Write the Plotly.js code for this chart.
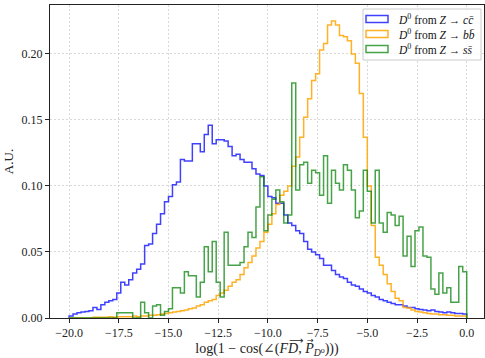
<!DOCTYPE html>
<html><head><meta charset="utf-8">
<script src="https://cdn.plot.ly/plotly-3.0.1.min.js"></script>
<style>html,body{margin:0;padding:0;background:#fff;overflow:hidden}</style>
</head><body><div id="chart" style="width:485px;height:358px"></div>
<script>
const binStart = -20;
const binWidth = 0.2;
const ccValues = [
 0.0015,0.003,0.004,0.0045,0.005,0.0055,0.008,0.0065,0.010,0.012,
 0.013,0.014,0.019,0.027,0.025,0.029,0.034,0.037,0.041,0.055,
 0.056,0.064,0.071,0.079,0.088,0.092,0.101,0.103,0.120,0.119,
 0.119,0.132,0.132,0.126,0.139,0.146,0.132,0.135,0.135,0.134,
 0.130,0.123,0.124,0.120,0.118,0.118,0.113,0.109,0.108,0.100,
 0.092,0.091,0.087,0.087,0.078,0.072,0.070,0.066,0.064,0.058,
 0.052,0.050,0.048,0.045,0.040,0.040,0.036,0.033,0.031,0.030,
 0.027,0.025,0.024,0.022,0.020,0.019,0.017,0.016,0.014,0.013,
 0.012,0.011,0.010,0.010,0.009,0.008,0.008,0.007,0.0065,0.006,
 0.0055,0.006,0.005,0.0045,0.004,0.0045,0.004,0.0035,0.0035,0.003
];
const bbValues = [
 0,0,0,0,0,0,0.0005,0.0005,0.0005,0.0005,
 0.001,0.0005,0.001,0.001,0.001,0.001,0.0015,0.001,0.0015,0.0015,
 0.002,0.002,0.0025,0.003,0.0035,0.004,0.0045,0.005,0.0055,0.006,
 0.007,0.0075,0.009,0.010,0.012,0.013,0.014,0.017,0.019,0.021,
 0.024,0.027,0.029,0.033,0.038,0.042,0.047,0.053,0.058,0.065,
 0.071,0.079,0.086,0.093,0.096,0.100,0.115,0.122,0.137,0.152,
 0.166,0.180,0.185,0.203,0.208,0.222,0.225,0.222,0.214,0.213,
 0.210,0.200,0.193,0.170,0.137,0.100,0.070,0.046,0.040,0.033,
 0.026,0.020,0.015,0.013,0.008,0.0075,0.006,0.005,0.0045,0.004,
 0.0035,0.003,0.003,0.0025,0.0025,0.002,0.002,0.0015,0.0015,0.0015
];
const ssValues = [
 0,0,0,0,0,0,0,0,0,0,
 0,0,0.004,0.004,0.004,0.004,0,0,0.012,0.004,
 0,0.009,0.010,0.002,0.005,0.007,0.023,0.023,0.019,0.035,
 0.032,0.032,0.016,0.027,0.054,0.035,0.058,0.027,0.016,0.065,
 0.040,0.040,0.040,0.042,0.054,0.065,0.061,0.084,0.107,0.066,
 0.078,0.090,0.097,0.088,0.072,0.078,0.178,0.097,0.116,0.118,
 0.102,0.112,0.110,0.093,0.123,0.087,0.112,0.102,0.097,0.116,
 0.112,0.097,0.076,0.081,0.112,0.096,0.072,0.112,0.072,0.065,
 0.080,0.078,0.070,0.077,0.047,0.062,0.039,0.066,0.069,0.047,
 0.046,0.022,0.018,0.034,0.019,0.023,0.012,0.012,0.039,0.035
];
const seriesNames = [
 '<i>D</i><sup>0</sup> from <i>Z</i> → <i>cc\u0304</i>',
 '<i>D</i><sup>0</sup> from <i>Z</i> → <i>bb\u0304</i>',
 '<i>D</i><sup>0</sup> from <i>Z</i> → <i>ss\u0304</i>'
];
const seriesColors = ['rgba(0,0,255,0.75)','rgba(255,165,0,0.85)','rgba(0,128,0,0.72)'];
const xTicks = [-20,-17.5,-15,-12.5,-10,-7.5,-5,-2.5,0];
const yTicks = [0,0.05,0.10,0.15,0.20];

function stepXY(vals){
  const x=[], y=[]; const n=vals.length;
  x.push(binStart); y.push(0);
  for(let i=0;i<n;i++){ x.push(binStart+i*binWidth); y.push(vals[i]); }
  x.push(binStart+n*binWidth); y.push(vals[n-1]);
  x.push(binStart+n*binWidth); y.push(0);
  return {x,y};
}
const allSeries=[ccValues,bbValues,ssValues];
const traces = allSeries.map((v,i)=>{
  const s=stepXY(v);
  return {type:'scatter',mode:'lines',x:s.x,y:s.y,line:{shape:'hv',color:seriesColors[i],width:1.5},hoverinfo:'skip',showlegend:false};
});

const font='"Liberation Serif", "DejaVu Serif", serif';
const L=50, R=484, T=5, B=318;
function px2paperX(p){return (p-L)/(R-L);}
function px2paperY(p){return (B-p)/(B-T);}

const shapes=[{type:'rect',xref:'paper',yref:'paper',x0:px2paperX(363),x1:px2paperX(481),y0:px2paperY(60),y1:px2paperY(9),
  line:{color:'#cccccc',width:1},fillcolor:'rgba(255,255,255,0.8)',layer:'above'}];
const annotations=[];
const rowY=[19,34,49];
seriesNames.forEach((nm,i)=>{
  shapes.push({type:'rect',xref:'paper',yref:'paper',x0:px2paperX(366),x1:px2paperX(388),y0:px2paperY(rowY[i]+3.5),y1:px2paperY(rowY[i]-3.5),
    line:{color:seriesColors[i],width:1.5},fillcolor:'rgba(0,0,0,0)',layer:'above'});
  annotations.push({xref:'paper',yref:'paper',x:px2paperX(396),y:px2paperY(rowY[i]),xanchor:'left',yanchor:'middle',showarrow:false,
    text:nm,font:{family:font,size:11.5,color:'#111'}});
});
// vector arrows over FD and P in the x-axis title
annotations.push({xref:'paper',yref:'paper',x:px2paperX(296),y:px2paperY(340),xanchor:'center',yanchor:'middle',showarrow:false,
  text:'⟶',font:{family:'"DejaVu Sans"',size:10,color:'#222'}});
annotations.push({xref:'paper',yref:'paper',x:px2paperX(310),y:px2paperY(340),xanchor:'center',yanchor:'middle',showarrow:false,
  text:'→',font:{family:'"DejaVu Sans"',size:8,color:'#222'}});

const layout={
  width:485,height:358,
  margin:{l:L,r:485-R,t:T,b:358-B,pad:0},
  paper_bgcolor:'#fff',plot_bgcolor:'#fff',
  font:{family:font,size:12,color:'#222'},
  xaxis:{range:[-20.96,0.87],tickvals:xTicks,tickformat:'.1f',ticks:'outside',ticklen:4,tickcolor:'#222',
    showline:true,linecolor:'#222',linewidth:1,mirror:true,showgrid:true,gridcolor:'#cfcfcf',griddash:'2px,2px',gridwidth:0.8,zeroline:false,
    tickfont:{family:font,size:12,color:'#222'},
    title:{text:'log(1 − cos(∠(<i>FD</i>, <i>P</i><sub><i>D</i>⁰</sub>)))',font:{family:font,size:14,color:'#222'},standoff:6}},
  yaxis:{range:[0,0.2371],tickvals:yTicks,tickformat:'.2f',ticks:'outside',ticklen:4,tickcolor:'#222',
    showline:true,linecolor:'#222',linewidth:1,mirror:true,showgrid:true,gridcolor:'#cfcfcf',griddash:'2px,2px',gridwidth:0.8,zeroline:false,
    tickfont:{family:font,size:12,color:'#222'},
    title:{text:'A.U.',font:{family:font,size:13,color:'#222'},standoff:5}},
  shapes:shapes,annotations:annotations,showlegend:false
};
Plotly.newPlot('chart',traces,layout,{displayModeBar:false,staticPlot:true});
</script></body></html>
